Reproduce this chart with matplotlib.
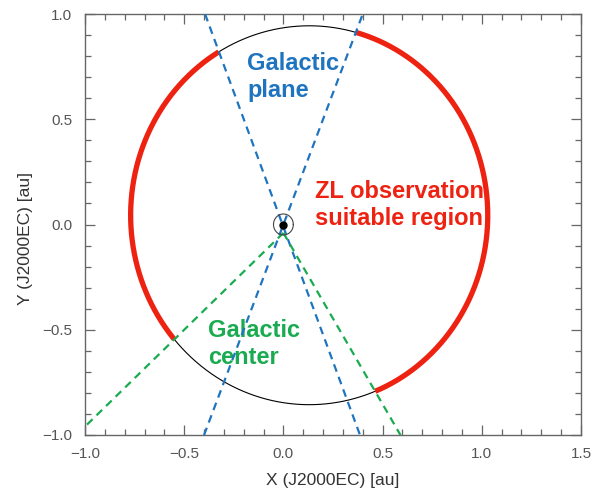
import numpy as np
import matplotlib
matplotlib.use("Agg")
import matplotlib.pyplot as plt
from matplotlib.ticker import MultipleLocator

plt.rcParams['font.family'] = ['Liberation Sans', 'DejaVu Sans']

# orbit (au, J2000 ecliptic)
orbit_center = (0.13, 0.044)
orbit_radius = 0.90

# galactic plane directions, drawn across the whole frame
plane_x = [[-0.395, 0.386], [-0.40, 0.40]]
plane_y = [[1.0, -1.0], [-1.0, 1.0]]

# galactic center directions
gc_x = [[0.0, -1.0], [0.0, 0.59]]
gc_y = [[-0.04, -0.96], [-0.04, -1.0]]

earth = (0.0, 0.0)
moon_orbit_r = 0.05

RED = '#ee2211'
BLUE = '#1f74bf'
GREEN = '#1aab50'


def ang(dx, dy):
    return np.degrees(np.arctan2(dy, dx)) % 360


fig = plt.figure(figsize=(6.02, 4.92), dpi=100)
ax = fig.add_axes([85 / 602, 1 - 435 / 492, 496 / 602, 421 / 492])

t = np.linspace(0, 2 * np.pi, 3000)
ox = orbit_center[0] + orbit_radius * np.cos(t)
oy = orbit_center[1] + orbit_radius * np.sin(t)

# directions of the wedges, seen from their apex
a_plane = sorted(ang(plane_x[i][j], plane_y[i][j]) for i in range(2) for j in range(2)
                 if plane_y[i][j] > 0)
a_gc = sorted(ang(gc_x[i][1] - gc_x[i][0], gc_y[i][1] - gc_y[i][0]) for i in range(2))

p_ang = ang(ox - earth[0], oy - earth[1])
g_ang = ang(ox - gc_x[0][0], oy - gc_y[0][0])
blocked = ((p_ang > a_plane[0]) & (p_ang < a_plane[1])) | \
          ((g_ang > a_gc[0]) & (g_ang < a_gc[1]))

ax.plot(ox, oy, color='black', lw=0.8, zorder=2)
rx = np.where(blocked, np.nan, ox)
ax.plot(rx, oy, color=RED, lw=3.8, solid_capstyle='butt', zorder=3)

for xs, ys in zip(plane_x, plane_y):
    ax.plot(xs, ys, color=BLUE, lw=1.6, dashes=(3.5, 2.5), zorder=4)
for xs, ys in zip(gc_x, gc_y):
    ax.plot(xs, ys, color=GREEN, lw=1.6, dashes=(3.5, 2.5), zorder=4)

ax.plot(earth[0] + moon_orbit_r * np.cos(t), earth[1] + moon_orbit_r * np.sin(t),
        color='#444444', lw=0.8, zorder=5)
ax.plot(*earth, 'o', color='black', ms=5, zorder=6)

ax.text(-0.183, 0.70, 'Galactic\nplane', color=BLUE, fontsize=17, fontweight='bold',
        ha='left', va='center', linespacing=1.2)
ax.text(0.159, 0.093, 'ZL observation\nsuitable region', color=RED, fontsize=17,
        fontweight='bold', ha='left', va='center', linespacing=1.2)
ax.text(-0.38, -0.568, 'Galactic\ncenter', color=GREEN, fontsize=17, fontweight='bold',
        ha='left', va='center', linespacing=1.2)

ax.set_xlim(-1.0, 1.5)
ax.set_ylim(-1.0, 1.0)
ax.xaxis.set_major_locator(MultipleLocator(0.5))
ax.xaxis.set_minor_locator(MultipleLocator(0.1))
ax.yaxis.set_major_locator(MultipleLocator(0.5))
ax.yaxis.set_minor_locator(MultipleLocator(0.1))
ax.tick_params(which='both', direction='in', top=True, right=True,
               color='#666666', labelcolor='#555555', labelsize=11, width=0.9)
ax.tick_params(which='major', length=7, pad=9)
ax.tick_params(which='minor', length=4)
for s in ax.spines.values():
    s.set_color('#666666')
    s.set_linewidth(1.0)

ax.set_xlabel('X (J2000EC) [au]', fontsize=12.5, color='#333333', labelpad=8)
ax.set_ylabel('Y (J2000EC) [au]', fontsize=12.5, color='#333333')
ax.yaxis.set_label_coords(-0.105, 0.467)

fig.savefig('out.png', dpi=100)
